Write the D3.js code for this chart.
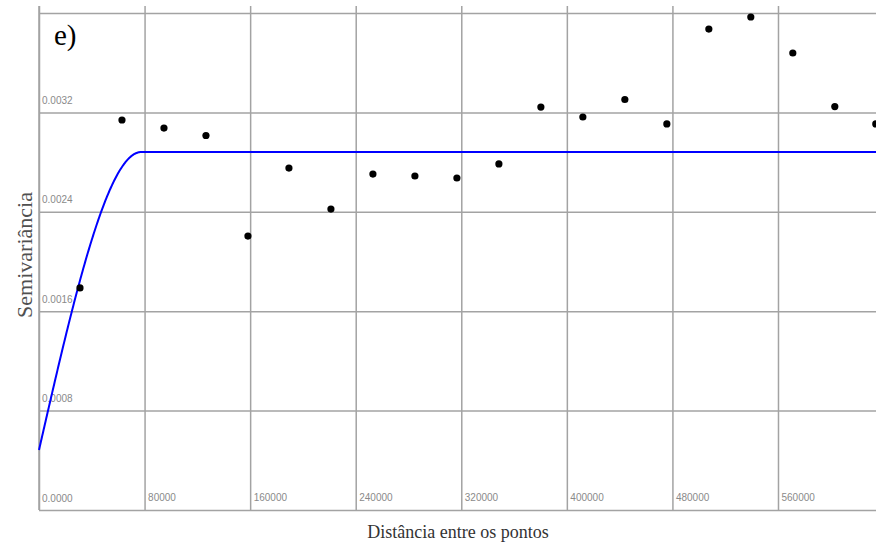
<!DOCTYPE html>
<html>
<head>
<meta charset="utf-8">
<script src="https://cdn.jsdelivr.net/npm/d3@7"></script>
<style>
  html, body { margin: 0; padding: 0; background: #fff; }
  svg { display: block; }
</style>
</head>
<body>
<div id="chart"></div>
<script>
// Experimental semivariogram: lag distance and semivariance
const lagDistance = [31060, 62880, 94700, 126520, 158340, 189400, 221220, 253040, 284860, 316680,
                     348500, 380320, 412130, 443950, 475770, 507600, 539400, 571230, 603050, 634110];
const semivariance = [0.001787, 0.003139, 0.003074, 0.003014, 0.002205, 0.002752, 0.002422, 0.002704,
                      0.002688, 0.002672, 0.002785, 0.003243, 0.003163, 0.003304, 0.003107, 0.003871,
                      0.003968, 0.003678, 0.003247, 0.003107];

// Fitted spherical model parameters
const nugget = 0.000483;
const sill = 0.002881;
const modelRange = 77500;

// Axis ticks
const xTicks = [0, 80000, 160000, 240000, 320000, 400000, 480000, 560000];
const yTicks = [0, 0.0008, 0.0016, 0.0024, 0.0032, 0.0040];

const W = 876, H = 548;
const plot = { left: 39, top: 6, bottom: 510, right: 884 };

const svg = d3.select("#chart").append("svg")
  .attr("width", W).attr("height", H);

const x = d3.scaleLinear().domain([0, 640000]).range([plot.left, plot.left + 8 * 105.57]);
const y = d3.scaleLinear().domain([0, 0.004]).range([plot.bottom, 13]);

const gridColor = "#a3a3a3";
const labelColor = "#8a8a8a";

// Vertical grid lines with distance labels
const xAxis = d3.axisBottom(x).tickValues(xTicks)
  .tickSize(-(plot.bottom - plot.top)).tickFormat(d3.format("d"));
const gx = svg.append("g").attr("transform", `translate(0,${plot.bottom})`).call(xAxis);
gx.select(".domain").remove();
gx.selectAll(".tick line").attr("stroke", gridColor).attr("stroke-width", 1.5);
gx.selectAll(".tick text")
  .attr("text-anchor", "start").attr("x", 3).attr("y", -9).attr("dy", null)
  .attr("fill", labelColor).style("font-family", "Arial, 'Liberation Sans', sans-serif")
  .style("font-size", "10px")
  .filter(d => d === 0).remove();

// Horizontal grid lines with semivariance labels
const yAxis = d3.axisLeft(y).tickValues(yTicks)
  .tickSize(-(W - plot.left)).tickFormat(d3.format(".4f"));
const gy = svg.append("g").attr("transform", `translate(${plot.left},0)`).call(yAxis);
gy.select(".domain").remove();
gy.selectAll(".tick line").attr("stroke", gridColor).attr("stroke-width", 1.5);
gy.selectAll(".tick text")
  .attr("text-anchor", "start").attr("x", 3).attr("y", -9).attr("dy", null)
  .attr("fill", labelColor).style("font-family", "Arial, 'Liberation Sans', sans-serif")
  .style("font-size", "10px")
  .filter(d => d === 0.004).remove();

// Left frame edge
svg.append("line")
  .attr("x1", plot.left).attr("x2", plot.left)
  .attr("y1", plot.top).attr("y2", plot.bottom)
  .attr("stroke", gridColor).attr("stroke-width", 1.5);

// Spherical model curve
const spherical = h => h >= modelRange ? sill
  : nugget + (sill - nugget) * (1.5 * h / modelRange - 0.5 * Math.pow(h / modelRange, 3));
const hMax = x.invert(W);
const hs = d3.range(0, hMax, 500).concat([modelRange, hMax]).sort((a, b) => a - b);
svg.append("path")
  .datum(hs)
  .attr("fill", "none")
  .attr("stroke", "#0000ff")
  .attr("stroke-width", 2)
  .attr("d", d3.line().x(h => x(h)).y(h => y(spherical(h))));

// Experimental points
svg.append("g").selectAll("circle")
  .data(lagDistance.map((d, i) => [d, semivariance[i]]))
  .join("circle")
  .attr("cx", d => x(d[0]))
  .attr("cy", d => y(d[1]))
  .attr("r", 3.6)
  .attr("fill", "#000");

// Titles
svg.append("text")
  .attr("x", 458).attr("y", 538)
  .attr("text-anchor", "middle")
  .attr("fill", "#333")
  .style("font-family", "'Liberation Serif', 'Times New Roman', serif")
  .style("font-size", "18px")
  .text("Distância entre os pontos");

svg.append("text")
  .attr("transform", "translate(32,255) rotate(-90)")
  .attr("text-anchor", "middle")
  .attr("fill", "#505050")
  .style("font-family", "'Liberation Serif', 'Times New Roman', serif")
  .style("font-size", "22px")
  .text("Semivariância");

svg.append("text")
  .attr("x", 54).attr("y", 45)
  .attr("fill", "#000")
  .style("font-family", "'Liberation Serif', 'Times New Roman', serif")
  .style("font-size", "29px")
  .text("e)");
</script>
</body>
</html>
